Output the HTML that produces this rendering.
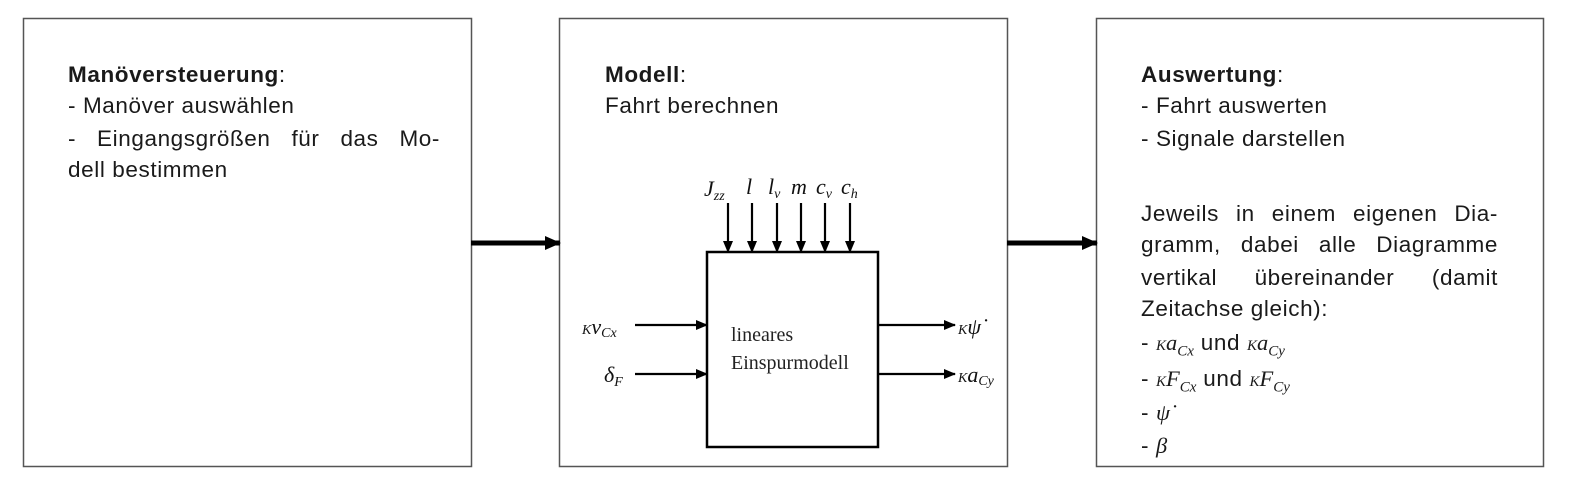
<!DOCTYPE html>
<html><head><meta charset="utf-8"><style>
body{margin:0;width:1580px;height:493px;background:#fff;position:relative;overflow:hidden;font-family:"Liberation Sans",sans-serif;color:#1a1a1a}
.l{position:absolute;font-size:22.5px;letter-spacing:0.6px;white-space:nowrap;line-height:26px}
.j{text-align:justify;text-align-last:justify}
.m{font-family:"Liberation Serif",serif;font-style:italic;letter-spacing:0}
.s{font-size:15px}
</style></head><body>
<svg width="1580" height="493" style="position:absolute;left:0;top:0">
<defs><marker id="a" markerWidth="12" markerHeight="10" refX="11" refY="5" orient="auto" markerUnits="userSpaceOnUse"><path d="M0,0 L12,5 L0,10z" fill="#000"/></marker>
<marker id="b" markerWidth="16" markerHeight="16" refX="15" refY="8" orient="auto" markerUnits="userSpaceOnUse"><path d="M0,1 L16,8 L0,15z" fill="#000"/></marker></defs>
<g fill="none" stroke="#555" stroke-width="1.5">
<rect x="23.5" y="18.5" width="448" height="448"/>
<rect x="559.5" y="18.5" width="448" height="448"/>
<rect x="1096.5" y="18.5" width="447" height="448"/>
</g>
<g stroke="#000" stroke-width="5"><line x1="471" y1="243" x2="560" y2="243" marker-end="url(#b)"/><line x1="1007" y1="243" x2="1097" y2="243" marker-end="url(#b)"/></g>
<rect x="707" y="252" width="171" height="195" fill="none" stroke="#000" stroke-width="2.5"/>
<g stroke="#000" stroke-width="2.2">
<line x1="728" y1="203" x2="728" y2="252" marker-end="url(#a)"/>
<line x1="752" y1="203" x2="752" y2="252" marker-end="url(#a)"/>
<line x1="777" y1="203" x2="777" y2="252" marker-end="url(#a)"/>
<line x1="801" y1="203" x2="801" y2="252" marker-end="url(#a)"/>
<line x1="825" y1="203" x2="825" y2="252" marker-end="url(#a)"/>
<line x1="850" y1="203" x2="850" y2="252" marker-end="url(#a)"/>
<line x1="635" y1="325" x2="707" y2="325" marker-end="url(#a)"/>
<line x1="635" y1="374" x2="707" y2="374" marker-end="url(#a)"/>
<line x1="878" y1="325" x2="955" y2="325" marker-end="url(#a)"/>
<line x1="878" y1="374" x2="955" y2="374" marker-end="url(#a)"/>
</g>
<g font-family="Liberation Serif,serif" font-style="italic" font-size="22" fill="#111">
<text x="704" y="196">J<tspan font-size="14" dy="4">zz</tspan></text>
<text x="746" y="194">l</text>
<text x="768" y="194">l<tspan font-size="14" dy="4">v</tspan></text>
<text x="791" y="194">m</text>
<text x="816" y="194">c<tspan font-size="14" dy="4">v</tspan></text>
<text x="841" y="194">c<tspan font-size="14" dy="4">h</tspan></text>
<text x="582" y="334"><tspan font-size="14">K</tspan>v<tspan font-size="14" dy="3">Cx</tspan></text>
<text x="604" y="382">δ<tspan font-size="14" dy="4">F</tspan></text>
<text x="958" y="334"><tspan font-size="14">K</tspan>ψ̇</text>
<text x="958" y="382"><tspan font-size="14">K</tspan>a<tspan font-size="14" dy="3">Cy</tspan></text>
</g>
<g font-family="Liberation Serif,serif" font-size="20" fill="#222">
<text x="731" y="341">lineares</text>
<text x="731" y="369">Einspurmodell</text>
</g>
</svg>
<div class="l" style="left:68px;top:62px"><b>Manöversteuerung</b>:</div>
<div class="l" style="left:68px;top:93px">- Manöver auswählen</div>
<div class="l j" style="left:68px;top:126px;width:372px">- Eingangsgrößen für das Mo-</div>
<div class="l" style="left:68px;top:157px">dell bestimmen</div>
<div class="l" style="left:605px;top:62px"><b>Modell</b>:</div>
<div class="l" style="left:605px;top:93px">Fahrt berechnen</div>
<div class="l" style="left:1141px;top:62px"><b>Auswertung</b>:</div>
<div class="l" style="left:1141px;top:93px">- Fahrt auswerten</div>
<div class="l" style="left:1141px;top:126px">- Signale darstellen</div>
<div class="l j" style="left:1141px;top:201px;width:357px">Jeweils in einem eigenen Dia-</div>
<div class="l j" style="left:1141px;top:232px;width:357px">gramm, dabei alle Diagramme</div>
<div class="l j" style="left:1141px;top:265px;width:357px">vertikal übereinander (damit</div>
<div class="l" style="left:1141px;top:296px">Zeitachse gleich):</div>
<div class="l" style="left:1141px;top:330px">- <span class="m"><span class="s">K</span>a<sub class="s">Cx</sub></span> und <span class="m"><span class="s">K</span>a<sub class="s">Cy</sub></span></div>
<div class="l" style="left:1141px;top:366px">- <span class="m"><span class="s">K</span>F<sub class="s">Cx</sub></span> und <span class="m"><span class="s">K</span>F<sub class="s">Cy</sub></span></div>
<div class="l" style="left:1141px;top:400px">- <span class="m">ψ̇</span></div>
<div class="l" style="left:1141px;top:433px">- <span class="m">β</span></div>
</body></html>
